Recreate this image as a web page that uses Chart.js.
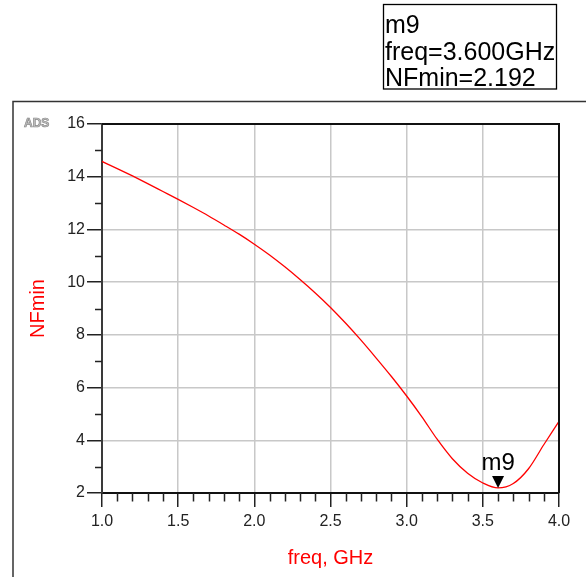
<!DOCTYPE html>
<html>
<head>
<meta charset="utf-8">
<script src="https://cdn.jsdelivr.net/npm/chart.js@4.4.1/dist/chart.umd.min.js"></script>
<style>
  html, body { margin: 0; padding: 0; background: #fff; }
  #wrap { width: 586px; height: 577px; }
</style>
</head>
<body>
<div id="wrap"><canvas id="canvas" width="586" height="577"></canvas></div>
<script>
// NFmin vs frequency
const freq  = [1.0, 1.1, 1.2, 1.3, 1.4, 1.5, 1.6, 1.7, 1.8, 1.9,
               2.0, 2.1, 2.2, 2.3, 2.4, 2.5, 2.6, 2.7, 2.8, 2.9,
               3.0, 3.1, 3.2, 3.3, 3.4, 3.5, 3.6, 3.7, 3.8, 3.9, 4.0];
const nfmin = [14.58, 14.31, 14.03, 13.74, 13.44, 13.14, 12.83, 12.51, 12.17, 11.82,
               11.44, 11.03, 10.58, 10.10, 9.59, 9.04, 8.44, 7.80, 7.12, 6.42,
               5.68, 4.89, 4.04, 3.30, 2.75, 2.38, 2.192, 2.36, 2.92, 3.83, 4.72];

const xTicks = [1.0, 1.5, 2.0, 2.5, 3.0, 3.5, 4.0];
const yTicks = [2, 4, 6, 8, 10, 12, 14, 16];

const markerName = "m9";
const markerFreq = 3.6;
const markerValue = 2.192;

const FONT = "'Liberation Sans', Arial, sans-serif";

const adsDecor = {
  id: 'adsDecor',
  beforeDraw(chart) {
    const c = chart.ctx;
    c.save();
    // outer plot window frame
    c.strokeStyle = '#333';
    c.lineWidth = 1.5;
    c.beginPath();
    c.moveTo(13, 577);
    c.lineTo(13, 101.5);
    c.lineTo(586, 101.5);
    c.stroke();
    // ADS logo
    c.font = 'bold 12px ' + FONT;
    c.fillStyle = '#c0c0c0';
    c.strokeStyle = '#8a8a8a';
    c.lineWidth = 0.7;
    c.fillText('ADS', 24, 127);
    c.strokeText('ADS', 24, 127);
    // marker readout box
    c.strokeStyle = '#000';
    c.lineWidth = 1.3;
    c.strokeRect(383.5, 4.5, 173, 84.5);
    c.fillStyle = '#000';
    c.font = '25px ' + FONT;
    c.fillText(markerName, 385, 33);
    c.fillText('freq=' + markerFreq.toFixed(3) + 'GHz', 385, 60);
    c.fillText('NFmin=' + markerValue.toFixed(3), 385, 86);
    c.restore();
  },
  afterDraw(chart) {
    const c = chart.ctx;
    const a = chart.chartArea;
    const x = chart.scales.x, y = chart.scales.y;
    c.save();
    // frame of the plot area
    c.strokeStyle = '#111';
    c.lineWidth = 2;
    c.beginPath();
    c.moveTo(a.left, a.top);
    c.lineTo(a.right, a.top);
    c.lineTo(a.right, a.bottom);
    c.stroke();
    // minor ticks
    c.strokeStyle = '#222';
    c.lineWidth = 1.5;
    c.beginPath();
    for (let i = 10; i <= 40; i++) {
      if (i % 5 === 0) continue;
      const px = Math.round(x.getPixelForValue(i / 10)) + 0.5;
      c.moveTo(px, a.bottom);
      c.lineTo(px, a.bottom + 8.5);
    }
    for (let v = 3; v < 16; v += 2) {
      const py = Math.round(y.getPixelForValue(v)) + 0.5;
      c.moveTo(a.left - 7, py);
      c.lineTo(a.left, py);
    }
    c.stroke();
    // marker
    const mx = x.getPixelForValue(markerFreq);
    const my = y.getPixelForValue(markerValue);
    c.fillStyle = '#000';
    c.beginPath();
    c.moveTo(mx, my);
    c.lineTo(mx - 6, my - 12);
    c.lineTo(mx + 6, my - 12);
    c.closePath();
    c.fill();
    c.font = '24px ' + FONT;
    c.textAlign = 'center';
    c.fillText(markerName, mx, my - 18);
    c.restore();
  }
};

new Chart(document.getElementById('canvas').getContext('2d'), {
  type: 'line',
  data: {
    datasets: [{
      label: 'NFmin',
      data: freq.map((f, i) => ({x: f, y: nfmin[i]})),
      borderColor: '#ff0000',
      borderWidth: 1.3,
      pointRadius: 0,
      cubicInterpolationMode: 'monotone',
      fill: false
    }]
  },
  options: {
    responsive: false,
    animation: false,
    layout: { padding: { left: 0, top: 124, right: 27, bottom: 0 } },
    plugins: { legend: { display: false }, tooltip: { enabled: false } },
    scales: {
      x: {
        type: 'linear',
        min: 1, max: 4,
        afterBuildTicks: s => { s.ticks = xTicks.map(v => ({value: v})); },
        afterFit: s => { s.height = 84; },
        ticks: {
          callback: v => Number(v).toFixed(1),
          color: '#222',
          padding: 5,
          maxRotation: 0,
          font: { family: FONT, size: 16 }
        },
        grid: { color: '#c8c8c8', lineWidth: 1.5, tickColor: '#222', tickLength: 14, tickWidth: 1.5 },
        border: { color: '#111', width: 2 },
        title: {
          display: true, text: 'freq, GHz', color: '#ff0000',
          font: { family: FONT, size: 20 }, padding: { top: 0, bottom: 7 }
        }
      },
      y: {
        min: 2, max: 16,
        afterBuildTicks: s => { s.ticks = yTicks.map(v => ({value: v})); },
        afterFit: s => { s.width = 102; },
        ticks: {
          color: '#222',
          padding: 2,
          font: { family: FONT, size: 16 }
        },
        grid: { color: '#c8c8c8', lineWidth: 1.5, tickColor: '#222', tickLength: 15, tickWidth: 1.5 },
        border: { color: '#3a3a3a', width: 2 },
        title: {
          display: true, text: 'NFmin', color: '#ff0000',
          font: { family: FONT, size: 20 }, padding: { top: 26, bottom: 0 }
        }
      }
    }
  },
  plugins: [adsDecor]
});
</script>
</body>
</html>
